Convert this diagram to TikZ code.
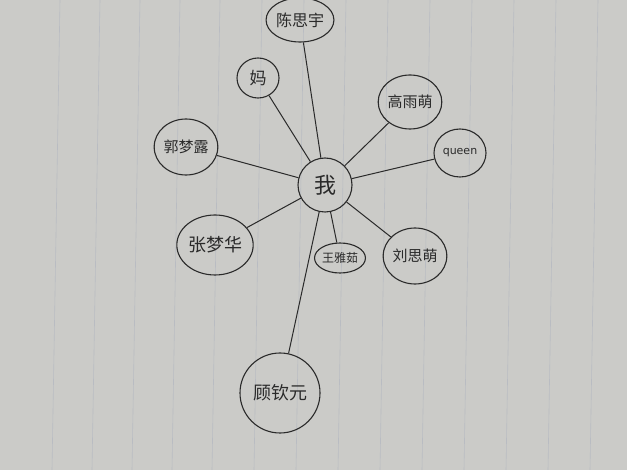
\documentclass[tikz,border=0pt]{standalone}
\usepackage{fontspec}
\newfontfamily\cjk{Noto Sans CJK SC}
\newfontfamily\latinhand{DejaVu Sans}
\definecolor{paper}{HTML}{CBCBC8}
\definecolor{ink}{HTML}{2A2A2A}
\definecolor{rule}{HTML}{B9BCC2}
\tikzset{
  person/.style={draw=ink, line width=1.1pt, ellipse, inner sep=0pt, font=\cjk\fontsize{15}{15}\selectfont, text=ink},
  link/.style={draw=ink, line width=1pt},
}
\usetikzlibrary{shapes.geometric}
\begin{document}
\begin{tikzpicture}[x=1pt,y=-1pt]
\fill[paper] (0,0) rectangle (627,470);
\useasboundingbox (0,0) rectangle (627,470);
\foreach \xx in {60,100,140,180,220,262,304,346,388,430,472,514,556,598}
  \draw[rule, line width=0.6pt] (\xx,0) -- (\xx-8,470);
\node[person, minimum width=54, minimum height=54, font=\cjk\fontsize{22}{22}\selectfont] (me) at (325,185) {我};
\node[person, minimum width=64, minimum height=44, font=\cjk\fontsize{16}{16}\selectfont] (a) at (300,20) {陈思宇};
\node[person, minimum width=42, minimum height=40, font=\cjk\fontsize{17}{17}\selectfont] (b) at (258,78) {妈};
\node[person, minimum width=56, minimum height=54] (c) at (410,102) {高雨萌};
\node[person, minimum width=58, minimum height=56] (d) at (186,147) {郭梦露};
\node[person, minimum width=52, minimum height=48, font=\latinhand\fontsize{11}{11}\selectfont] (e) at (460,153) {queen};
\node[person, minimum width=76, minimum height=60, font=\cjk\fontsize{18}{18}\selectfont] (f) at (215,245) {张梦华};
\node[person, minimum width=46, minimum height=30, font=\cjk\fontsize{12}{12}\selectfont] (g) at (340,258) {王雅茹};
\node[person, minimum width=52, minimum height=56] (h) at (415,256) {刘思萌};
\node[person, minimum width=80, minimum height=80, font=\cjk\fontsize{18}{18}\selectfont] (i) at (280,393) {顾钦元};
\foreach \n in {a,b,c,d,e,f,g,h,i}
  \draw[link] (me) -- (\n);
\end{tikzpicture}
\end{document}
